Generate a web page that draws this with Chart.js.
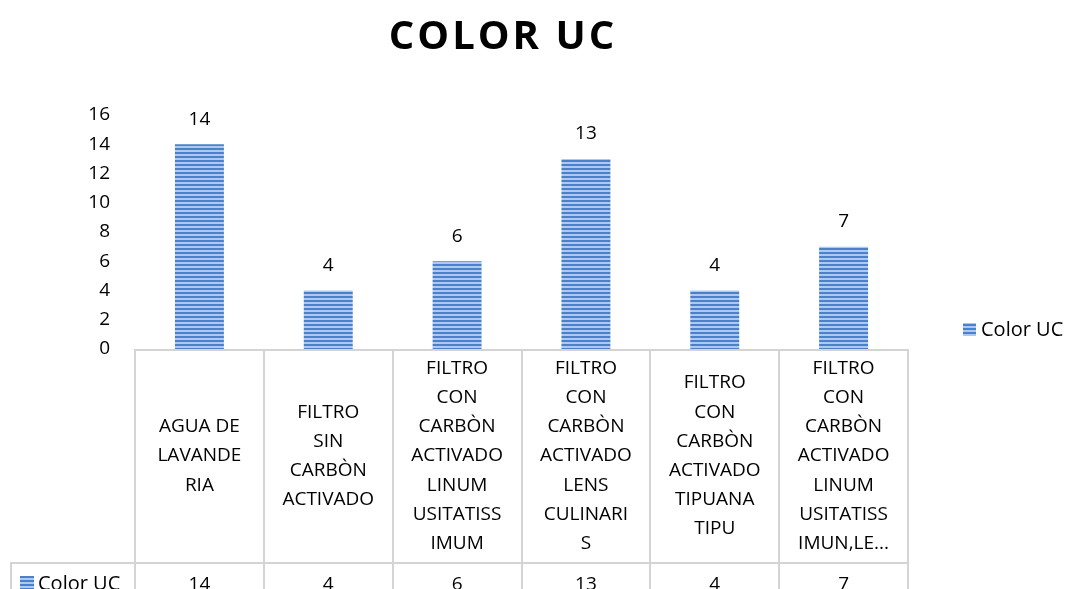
<!DOCTYPE html>
<html>
<head>
<meta charset="utf-8">
<script src="https://cdn.jsdelivr.net/npm/chart.js@4.4.0/dist/chart.umd.min.js"></script>
<style>
  html, body { margin: 0; padding: 0; background: #fff; }
  #wrap { width: 1070px; height: 589px; }
</style>
</head>
<body>
<div id="wrap"><canvas id="color_uc" width="1070" height="589"></canvas></div>
<script>
const titulo = 'COLOR UC';
const serie = 'Color UC';
const categorias = [
    ['AGUA DE', 'LAVANDE', 'RIA'],
    ['FILTRO', 'SIN', 'CARBÒN', 'ACTIVADO'],
    ['FILTRO', 'CON', 'CARBÒN', 'ACTIVADO', 'LINUM', 'USITATISS', 'IMUM'],
    ['FILTRO', 'CON', 'CARBÒN', 'ACTIVADO', 'LENS', 'CULINARI', 'S'],
    ['FILTRO', 'CON', 'CARBÒN', 'ACTIVADO', 'TIPUANA', 'TIPU'],
    ['FILTRO', 'CON', 'CARBÒN', 'ACTIVADO', 'LINUM', 'USITATISS', 'IMUN,LE...']
];
const valores = [14, 4, 6, 13, 4, 7];
const yMax = 16;
const yStep = 2;

const FONT = "'Open Sans', sans-serif";

// rayas horizontales como en Excel
function rayas() {
    const c = document.createElement('canvas');
    c.width = 4; c.height = 4;
    const g = c.getContext('2d');
    g.fillStyle = '#4a80cc';
    g.fillRect(0, 0, 4, 2);
    g.fillStyle = '#afc9ee';
    g.fillRect(0, 2, 4, 2);
    return g.createPattern(c, 'repeat');
}
const patron = rayas();

const tablaPlugin = {
    id: 'tabla',
    afterDraw(chart) {
        const ctx = chart.ctx;
        const area = chart.chartArea;
        const H = chart.height;
        const n = categorias.length;
        const w = (area.right - area.left) / n;
        const filaY = 563;
        ctx.save();

        // titulo
        ctx.fillStyle = '#000';
        ctx.font = 'bold 40px ' + FONT;
        ctx.letterSpacing = '3px';
        ctx.textAlign = 'center';
        ctx.textBaseline = 'middle';
        ctx.fillText(titulo, 503, 38);
        ctx.letterSpacing = '0px';

        // etiquetas de datos
        ctx.font = '19px ' + FONT;
        const meta = chart.getDatasetMeta(0);
        meta.data.forEach((bar, i) => {
            ctx.fillText(valores[i], bar.x, bar.y - 25);
        });

        // lineas de la tabla
        ctx.strokeStyle = '#d4d4d4';
        ctx.lineWidth = 2;
        ctx.beginPath();
        ctx.moveTo(area.left, area.bottom + 1);
        ctx.lineTo(area.right, area.bottom + 1);
        ctx.stroke();
        ctx.beginPath();
        for (let i = 0; i <= n; i++) {
            const x = Math.round(area.left + i * w);
            ctx.moveTo(x, area.bottom);
            ctx.lineTo(x, H);
        }
        ctx.moveTo(10, filaY);
        ctx.lineTo(area.right, filaY);
        ctx.moveTo(11, filaY);
        ctx.lineTo(11, H);
        ctx.stroke();

        // categorias
        ctx.fillStyle = '#000';
        ctx.font = '19px ' + FONT;
        const lh = 29.2;
        const cy = (area.bottom + filaY) / 2;
        categorias.forEach((lineas, i) => {
            const cx = area.left + (i + 0.5) * w;
            const y0 = cy - (lineas.length - 1) * lh / 2;
            lineas.forEach((t, j) => ctx.fillText(t, cx, y0 + j * lh));
            ctx.textBaseline = 'alphabetic';
            ctx.fillText(valores[i], cx, 590);
            ctx.textBaseline = 'middle';
        });

        // cabecera de fila
        ctx.fillStyle = patron;
        ctx.fillRect(20, 576, 14, 13);
        ctx.fillStyle = '#000';
        ctx.textAlign = 'left';
        ctx.textBaseline = 'alphabetic';
        ctx.font = '20px ' + FONT;
        ctx.fillText(serie, 38, 590);

        // leyenda
        ctx.fillStyle = patron;
        ctx.fillRect(963, 323, 13, 13);
        ctx.fillStyle = '#000';
        ctx.textBaseline = 'middle';
        ctx.fillText(serie, 981, 330);
        ctx.restore();
    }
};

new Chart(document.getElementById('color_uc'), {
    type: 'bar',
    data: {
        labels: categorias,
        datasets: [{
            label: serie,
            data: valores,
            backgroundColor: patron,
            borderWidth: 0,
            categoryPercentage: 1,
            barPercentage: 0.38,
        }],
    },
    options: {
        responsive: false,
        animation: false,
        layout: { padding: { top: 115, bottom: 240, left: 0, right: 162 } },
        scales: {
            x: { display: false },
            y: {
                min: 0,
                max: yMax,
                grid: { display: false, drawTicks: false },
                border: { display: false },
                ticks: {
                    stepSize: yStep,
                    padding: 25,
                    color: '#000',
                    font: { family: FONT, size: 19 },
                },
                afterFit(scale) { scale.width = 135; },
            }
        },
        plugins: {
            legend: { display: false },
            title: { display: false },
            tooltip: { enabled: false },
        },
    },
    plugins: [tablaPlugin],
});
</script>
</body>
</html>
